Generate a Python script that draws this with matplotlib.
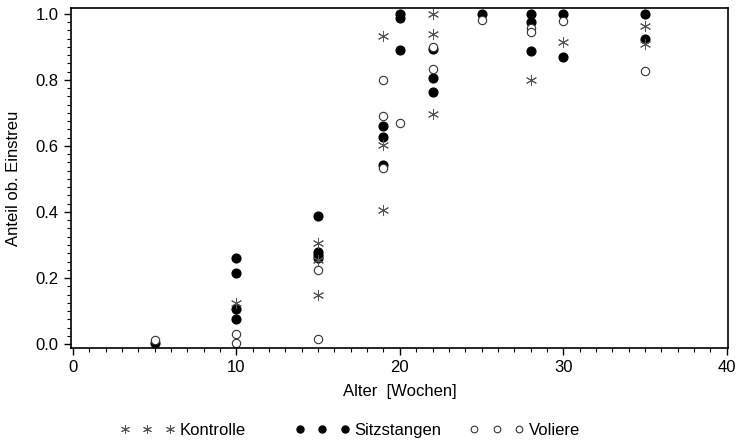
import matplotlib
matplotlib.use("Agg")
import matplotlib.pyplot as plt
from matplotlib.ticker import MultipleLocator

plt.rcParams['font.family'] = ['Liberation Sans', 'DejaVu Sans']

# Kontrolle (asterisk)
kon_x = [10, 15, 15, 15, 19, 19, 19, 22, 22, 22, 28, 30, 35, 35]
kon_y = [0.124, 0.305, 0.255, 0.15, 0.933, 0.603, 0.406, 1.0, 0.94, 0.696, 0.80, 0.916, 0.962, 0.909]

# Sitzstangen (filled circle)
sitz_x = [5, 10, 10, 10, 10, 15, 15, 15, 15, 19, 19, 19, 20, 20, 20, 22, 22, 22,
          25, 28, 28, 28, 30, 30, 35, 35]
sitz_y = [0.002, 0.26, 0.215, 0.106, 0.076, 0.388, 0.28, 0.27, 0.26, 0.661, 0.627, 0.542,
          1.0, 0.988, 0.891, 0.895, 0.807, 0.765, 1.0, 1.0, 0.975, 0.889, 1.0, 0.869,
          1.0, 0.924]

# Voliere (open circle)
vol_x = [5, 10, 10, 15, 15, 19, 19, 19, 20, 22, 22, 25, 28, 28, 30, 35]
vol_y = [0.012, 0.03, 0.002, 0.224, 0.015, 0.80, 0.69, 0.533, 0.67, 0.90, 0.832,
         0.982, 0.957, 0.945, 0.98, 0.828]

fig = plt.figure(figsize=(7.4, 4.42), dpi=100)
ax = fig.add_axes([0.0959, 0.2127, 0.8879, 0.7692])

ax.plot(sitz_x, sitz_y, linestyle='none', marker='o', ms=6.3, mfc='black', mec='black',
        label='Sitzstangen')
ax.plot(vol_x, vol_y, linestyle='none', marker='o', ms=6, mfc='white', mec='#333333',
        mew=0.8, label='Voliere')
ax.plot(kon_x, kon_y, linestyle='none', marker=(6, 2, 0), ms=8, color='#555555',
        mew=0.7, label='Kontrolle')

ax.set_xlim(-0.12, 40.08)
ax.set_ylim(-0.012, 1.018)
ax.xaxis.set_major_locator(MultipleLocator(10))
ax.xaxis.set_minor_locator(MultipleLocator(1))
ax.yaxis.set_major_locator(MultipleLocator(0.2))
ax.yaxis.set_minor_locator(MultipleLocator(0.025))
ax.yaxis.set_major_formatter(matplotlib.ticker.FormatStrFormatter('%.1f'))

ax.tick_params(which='major', direction='out', length=5, width=1, labelsize=12, pad=4)
ax.tick_params(which='minor', direction='out', length=3, width=0.8)
for s in ax.spines.values():
    s.set_linewidth(1.2)

ax.set_xlabel('Alter  [Wochen]', fontsize=12, labelpad=6)
ax.set_ylabel('Anteil ob. Einstreu', fontsize=12, labelpad=10)

# legend: three evenly spaced entries below the plot
h, l = ax.get_legend_handles_labels()
order = [2, 0, 1]
xpos = [0.162, 0.398, 0.634]
for i, xp in zip(order, xpos):
    fig.legend([h[i]], [l[i]], loc='center left', bbox_to_anchor=(xp, 0.027),
               frameon=False, numpoints=3, handlelength=3.3, handletextpad=0.3,
               borderpad=0, borderaxespad=0, fontsize=12, markerscale=0.8)

fig.savefig('out.png', dpi=100)
